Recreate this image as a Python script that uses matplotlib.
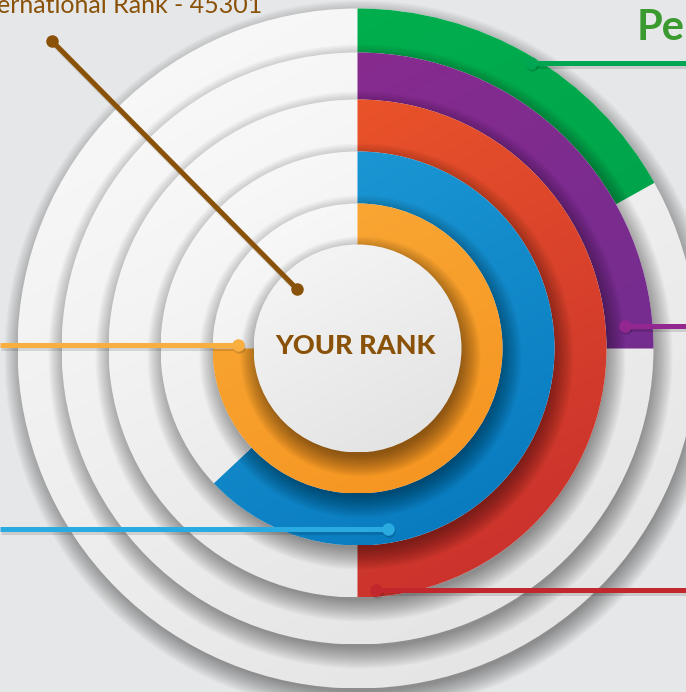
import numpy as np
import matplotlib.pyplot as plt
from matplotlib.patches import Circle, Wedge
from matplotlib.colors import to_rgb

# share of each ring (clockwise from 12 o'clock), outer ring first
ring_shares = [0.169, 0.25, 0.50, 0.63, 0.75]
center_label = "YOUR RANK"
rank_label = "ernational Rank - 45301"
title_label = "Pe"

# styles: (top colour, bottom colour) per ring, and leader colours
ring_grads = [("#00b450", "#009646"), ("#8e2a8f", "#672e8e"), ("#f15b29", "#c52d2d"),
              ("#1f9dd8", "#0677bc"), ("#f9aa38", "#f6931f")]
leader_cols = ["#00a651", "#92278f", "#c1272d", "#29abe2", "#f9ae40"]
brown = "#8a5208"

W, H = 686, 692
cx, cy = 357.5, 348.5
radii = [340, 296, 249, 197, 145]
r_center = 104

fig = plt.figure(figsize=(6.86, 6.92), dpi=100)
fig.patch.set_facecolor("#e6e7e8")
ax = fig.add_axes([0, 0, 1, 1])
ax.set_facecolor("#e6e7e8")


def grad_patch(patch, c1, c2, r, z):
    # diagonal gradient clipped to a patch
    patch.set_facecolor("none")
    patch.set_edgecolor("none")
    ax.add_patch(patch)
    n = 200
    xx, yy = np.meshgrid(np.linspace(0, 1, n), np.linspace(0, 1, n))
    t = (0.35 * xx + 0.65 * yy)[..., None]
    img = np.array(to_rgb(c1)) * (1 - t) + np.array(to_rgb(c2)) * t
    im = ax.imshow(img, extent=(cx - r, cx + r, cy - r, cy + r), origin="lower",
                   zorder=z, interpolation="bilinear")
    im.set_clip_path(patch)


def shadow(r, z, strength=0.026):
    for i in range(16):
        ax.add_patch(Circle((cx + 3, cy + 8), r - 5 + i * 1.4, color="k",
                            alpha=strength, lw=0, zorder=z))


z = 1
for r, share, (c1, c2) in zip(radii, ring_shares, ring_grads):
    shadow(r, z)
    grad_patch(Circle((cx, cy), r), "#fbfbfb", "#e2e2e2", r, z + 1)
    grad_patch(Wedge((cx, cy), r, -90, -90 + 360 * share), c1, c2, r, z + 2)
    z += 3

shadow(r_center, z, 0.033)
grad_patch(Circle((cx, cy), r_center), "#f7f7f7", "#e1e1e1", r_center, z + 1)
z += 2

ax.text(cx - 2, 346, center_label, ha="center", va="center", fontsize=19.5,
        fontweight="black", family="Lato", color=brown, zorder=z)

# leader lines: dot position and the side the line runs to
leader_dots = [(531, 63), (625, 326), (376, 590), (388, 529), (238, 345)]
leader_side = [W, W, W, 0, 0]
for (x, y), side, col in zip(leader_dots, leader_side, leader_cols):
    ax.plot([x + 1, side + 1], [y + 2.5, y + 2.5], color="k", alpha=0.12, lw=3.6,
            solid_capstyle="butt", zorder=z)
    ax.plot([x, side], [y, y], color=col, lw=3.6, solid_capstyle="butt", zorder=z + 1)
    ax.plot(x + 1, y + 2, "o", ms=9, color="k", alpha=0.15, mec="none", zorder=z)
    ax.plot(x, y, "o", ms=9, color=col, mec="none", zorder=z + 1)

bx = [52, 297]
by = [41, 289]
ax.plot([v + 1 for v in bx], [v + 2.5 for v in by], color="k", alpha=0.12, lw=3.6,
        zorder=z)
ax.plot(bx, by, color=brown, lw=3.6, zorder=z + 1)
ax.plot(bx, by, "o", ms=9, color=brown, mec="none", zorder=z + 1)

ax.text(262, 13, rank_label, ha="right", va="baseline", fontsize=18,
        family="Lato", color=brown, zorder=z)
ax.text(637, 40, title_label, ha="left", va="baseline", fontsize=30,
        fontweight="bold", family="Lato", color="#3a9a30", zorder=z)

ax.set_xlim(0, W)
ax.set_ylim(H, 0)
ax.set_aspect("auto")
ax.axis("off")
fig.savefig("out.png", dpi=100, facecolor=fig.get_facecolor())
